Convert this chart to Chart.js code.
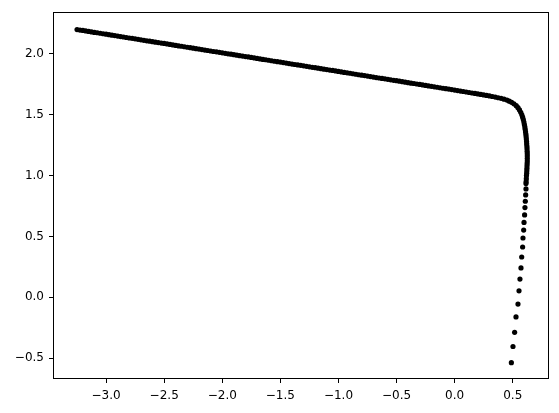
<!DOCTYPE html>
<html>
<head>
<meta charset="utf-8">
<script src="https://cdn.jsdelivr.net/npm/chart.js@4/dist/chart.umd.min.js"></script>
<style>
html,body{margin:0;padding:0;background:#fff;}
#wrap{width:559px;height:413px;}
</style>
</head>
<body>
<div id="wrap"><canvas id="c" width="559" height="413"></canvas></div>
<script>
// Point coordinates (x values, y values)
const xValues = [
-3.25,-3.225,-3.2,-3.175,-3.15,-3.125,-3.1,-3.075,-3.05,-3.025,
-3.0,-2.975,-2.95,-2.925,-2.9,-2.875,-2.85,-2.825,-2.8,-2.775,
-2.75,-2.725,-2.7,-2.675,-2.65,-2.625,-2.6,-2.575,-2.55,-2.525,
-2.5,-2.475,-2.45,-2.425,-2.4,-2.375,-2.35,-2.325,-2.3,-2.275,
-2.25,-2.225,-2.2,-2.175,-2.15,-2.125,-2.1,-2.075,-2.05,-2.025,
-2.0,-1.975,-1.95,-1.925,-1.9,-1.875,-1.85,-1.825,-1.8,-1.775,
-1.75,-1.725,-1.7,-1.675,-1.65,-1.625,-1.6,-1.575,-1.55,-1.525,
-1.5,-1.475,-1.45,-1.425,-1.4,-1.375,-1.35,-1.325,-1.3,-1.275,
-1.25,-1.225,-1.2,-1.175,-1.15,-1.125,-1.1,-1.075,-1.05,-1.025,
-1.0,-0.975,-0.95,-0.925,-0.9,-0.875,-0.85,-0.825,-0.8,-0.775,
-0.75,-0.725,-0.7,-0.675,-0.65,-0.625,-0.6,-0.575,-0.55,-0.525,
-0.5,-0.475,-0.45,-0.425,-0.4,-0.375,-0.35,-0.325,-0.3,-0.275,
-0.25,-0.225,-0.2,-0.175,-0.15,-0.125,-0.1,-0.075,-0.05,-0.025,
0.0,0.025,0.05,0.075,0.1,0.125,0.15,0.175,0.2,0.225,
0.25,0.275,0.3,0.325,0.35,0.375,0.4,0.425,0.45,0.47,
0.49,0.51,0.53,0.545,0.558,0.569,0.578,0.585,0.591,0.596,
0.6,0.604,0.607,0.61,0.613,0.615,0.617,0.619,0.62,0.622,
0.623,0.624,0.625,0.625,0.625,0.625,0.624,0.623,0.622,0.621,
0.62,0.618,0.617,0.615,
0.614,0.614,0.611,0.608,0.605,0.602,0.597,0.594,0.588,0.585,
0.577,0.571,0.562,0.554,0.545,0.528,0.516,0.502,0.488
];
const yValues = [
2.200,2.196,2.193,2.189,2.185,2.181,2.177,2.174,2.170,2.166,
2.162,2.158,2.154,2.151,2.147,2.143,2.139,2.135,2.131,2.128,
2.124,2.120,2.116,2.112,2.108,2.105,2.101,2.097,2.093,2.089,
2.086,2.082,2.078,2.074,2.070,2.066,2.063,2.059,2.055,2.051,
2.047,2.043,2.040,2.036,2.032,2.028,2.024,2.020,2.017,2.013,
2.009,2.005,2.001,1.998,1.994,1.990,1.986,1.982,1.978,1.975,
1.971,1.967,1.963,1.959,1.955,1.952,1.948,1.944,1.940,1.936,
1.933,1.929,1.925,1.921,1.917,1.913,1.910,1.906,1.902,1.898,
1.894,1.890,1.887,1.883,1.879,1.875,1.871,1.867,1.864,1.860,
1.856,1.852,1.848,1.845,1.841,1.837,1.833,1.829,1.825,1.822,
1.818,1.814,1.810,1.806,1.802,1.799,1.795,1.791,1.787,1.783,
1.780,1.776,1.772,1.768,1.764,1.760,1.757,1.753,1.749,1.745,
1.741,1.737,1.734,1.730,1.726,1.722,1.718,1.714,1.711,1.707,
1.703,1.699,1.695,1.691,1.687,1.683,1.679,1.675,1.671,1.667,
1.663,1.659,1.655,1.650,1.645,1.640,1.635,1.628,1.621,1.612,
1.602,1.590,1.575,1.558,1.540,1.520,1.500,1.480,1.460,1.440,
1.420,1.400,1.380,1.360,1.340,1.320,1.300,1.280,1.260,1.240,
1.220,1.200,1.180,1.160,1.140,1.120,1.100,1.080,1.060,1.040,
1.020,1.000,0.975,0.950,
0.934,0.890,0.841,0.789,0.737,0.677,0.615,0.552,0.487,0.413,
0.331,0.241,0.149,0.053,-0.056,-0.162,-0.288,-0.405,-0.538
];
const xTicks = [-3.0,-2.5,-2.0,-1.5,-1.0,-0.5,0.0,0.5];
const yTicks = [-0.5,0.0,0.5,1.0,1.5,2.0];

const points = xValues.map((x, i) => ({x: x, y: yValues[i]}));
const fmt = v => (Math.abs(v) < 1e-9 ? 0 : v).toFixed(1).replace('-', '\u2212');

const frame = {
  id: 'frame',
  afterDraw(chart) {
    const a = chart.chartArea, ctx = chart.ctx;
    ctx.save();
    ctx.strokeStyle = '#000';
    ctx.lineWidth = 1;
    ctx.strokeRect(Math.round(a.left) + 0.5, Math.round(a.top) + 0.5,
                   Math.round(a.right - a.left) - 1, Math.round(a.bottom - a.top) - 1);
    ctx.restore();
  }
};

new Chart(document.getElementById('c'), {
  type: 'scatter',
  data: {
    datasets: [{
      data: points,
      backgroundColor: '#000',
      borderColor: '#000',
      borderWidth: 0,
      pointRadius: 2.6,
      pointHoverRadius: 2.6
    }]
  },
  options: {
    responsive: false,
    animation: false,
    devicePixelRatio: 1,
    layout: {padding: {left: 0, right: 10, top: 10, bottom: 0}},
    plugins: {legend: {display: false}, tooltip: {enabled: false}},
    scales: {
      x: {
        type: 'linear',
        min: -3.457, max: 0.812,
        afterFit: s => { s.height = 34; },
        afterBuildTicks: s => { s.ticks = xTicks.map(v => ({value: v})); },
        grid: {display: true, drawOnChartArea: false, drawTicks: true, tickLength: 4, color: '#000', tickColor: '#000'},
        border: {display: false},
        ticks: {
          color: '#000', padding: 6,
          font: {family: 'DejaVu Sans', size: 12},
          maxRotation: 0, autoSkip: false,
          callback: v => fmt(v)
        }
      },
      y: {
        type: 'linear',
        min: -0.672, max: 2.343,
        afterFit: s => { s.width = 53; },
        afterBuildTicks: s => { s.ticks = yTicks.map(v => ({value: v})); },
        grid: {display: true, drawOnChartArea: false, drawTicks: true, tickLength: 4, color: '#000', tickColor: '#000'},
        border: {display: false},
        ticks: {
          color: '#000', padding: 5,
          font: {family: 'DejaVu Sans', size: 12},
          autoSkip: false,
          callback: v => fmt(v)
        }
      }
    }
  },
  plugins: [frame]
});
</script>
</body>
</html>
